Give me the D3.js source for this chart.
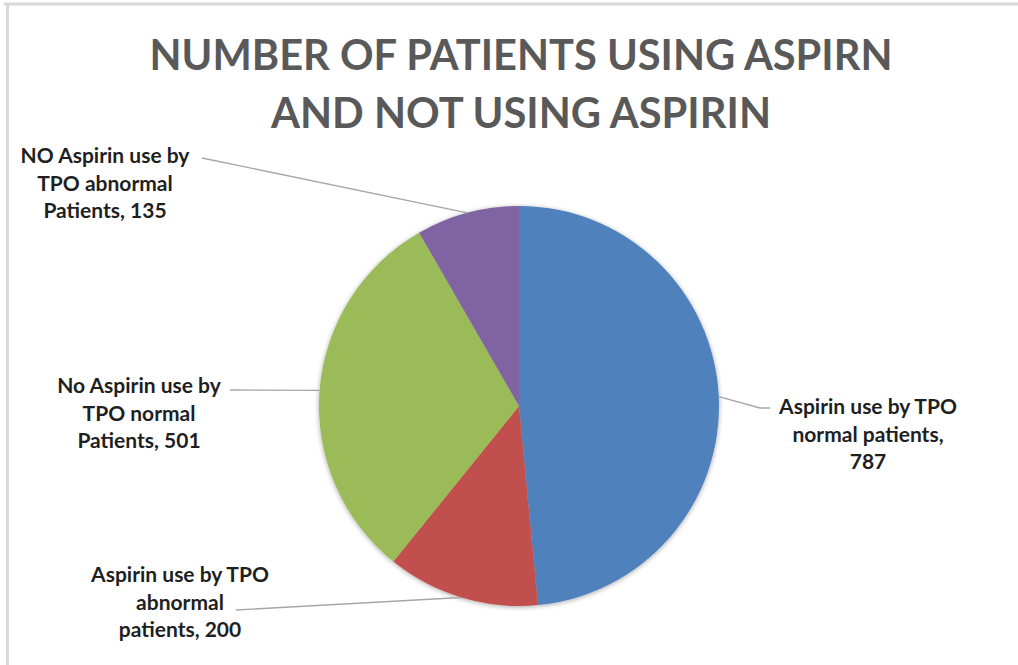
<!DOCTYPE html>
<html>
<head>
<meta charset="utf-8">
<script src="https://cdn.jsdelivr.net/npm/d3@7"></script>
<style>
  html, body { margin: 0; padding: 0; background: #fff; }
  svg { display: block; }
</style>
</head>
<body>
<svg id="chart" width="1018" height="665"></svg>
<script>
// ==============================
// DATA
// ==============================
const titleLines = ["NUMBER OF PATIENTS USING ASPIRN", "AND NOT USING ASPIRIN"];
const categories = [
    "Aspirin use by TPO normal patients",
    "Aspirin use by TPO abnormal patients",
    "No Aspirin use by TPO normal Patients",
    "NO Aspirin use by TPO abnormal Patients"
];
const values = [787, 200, 501, 135];
const labelLines = [
    ["Aspirin use by TPO", "normal patients,", "787"],
    ["Aspirin use by TPO", "abnormal", "patients, 200"],
    ["No Aspirin use by", "TPO normal", "Patients, 501"],
    ["NO Aspirin use by", "TPO abnormal", "Patients, 135"]
];
const colors = ["#4f81bd", "#c0504d", "#9bbb59", "#8064a2"];

// ==============================
// LAYOUT
// ==============================
const cx = 519, cy = 406, radius = 200;
const fontFamily = "Lato, 'Open Sans', 'DejaVu Sans', sans-serif";
// label block: center x, first baseline y, and where the leader line ends
const labelPos = [
    { x: 868, y: 414, lx: 770, ly: 408, bend: 760 },
    { x: 180, y: 582, lx: 236, ly: 610 },
    { x: 139, y: 393, lx: 230, ly: 390 },
    { x: 105, y: 163, lx: 202, ly: 158 }
];

const svg = d3.select("#chart");

// frame (top and left edges only, as in the picture)
svg.append("line").attr("x1", 4).attr("y1", 4).attr("x2", 1018).attr("y2", 4)
    .attr("stroke", "#d9d9d9").attr("stroke-width", 3);
svg.append("line").attr("x1", 7.5).attr("y1", 4).attr("x2", 7.5).attr("y2", 665)
    .attr("stroke", "#d9d9d9").attr("stroke-width", 3);

// ==============================
// TITLE
// ==============================
const titleWidths = [743, 500];
titleLines.forEach((t, i) => {
    svg.append("text")
        .attr("x", 521)
        .attr("y", 70 + i * 58)
        .attr("text-anchor", "middle")
        .attr("font-family", fontFamily)
        .attr("font-weight", 700)
        .attr("font-size", 42)
        .attr("fill", "#595959")
        .attr("textLength", titleWidths[i])
        .attr("lengthAdjust", "spacingAndGlyphs")
        .text(t);
});

// ==============================
// PIE
// ==============================
const defs = svg.append("defs");
const shadow = defs.append("filter").attr("id", "soft").attr("x", "-10%").attr("y", "-10%")
    .attr("width", "120%").attr("height", "120%");
shadow.append("feGaussianBlur").attr("in", "SourceAlpha").attr("stdDeviation", 2.5).attr("result", "b");
shadow.append("feOffset").attr("in", "b").attr("dx", 0).attr("dy", 1).attr("result", "o");
shadow.append("feComponentTransfer").attr("in", "o").attr("result", "s")
    .append("feFuncA").attr("type", "linear").attr("slope", 0.35);
const merge = shadow.append("feMerge");
merge.append("feMergeNode").attr("in", "s");
merge.append("feMergeNode").attr("in", "SourceGraphic");

const pie = d3.pie().sort(null).value(d => d)(values);
const arc = d3.arc().innerRadius(0).outerRadius(radius);

const g = svg.append("g").attr("transform", `translate(${cx},${cy})`);
g.append("g").attr("filter", "url(#soft)")
    .selectAll("path")
    .data(pie)
    .join("path")
    .attr("d", arc)
    .attr("fill", (d, i) => colors[i]);

// ==============================
// LEADER LINES + LABELS
// ==============================
pie.forEach((d, i) => {
    const mid = (d.startAngle + d.endAngle) / 2;
    const px = cx + radius * Math.sin(mid);
    const py = cy - radius * Math.cos(mid);
    const p = labelPos[i];
    const pts = [[px, py]];
    if (p.bend) pts.push([p.bend, p.ly]);
    pts.push([p.lx, p.ly]);
    svg.append("path")
        .attr("d", d3.line()(pts))
        .attr("fill", "none")
        .attr("stroke", "#a6a6a6")
        .attr("stroke-width", 1.3);

    const t = svg.append("text")
        .attr("text-anchor", "middle")
        .attr("font-family", fontFamily)
        .attr("font-weight", 700)
        .attr("font-size", 21)
        .attr("fill", "#1f1f1f");
    labelLines[i].forEach((line, j) => {
        t.append("tspan").attr("x", p.x).attr("y", p.y + j * 27.5).text(line);
    });
});
</script>
</body>
</html>
